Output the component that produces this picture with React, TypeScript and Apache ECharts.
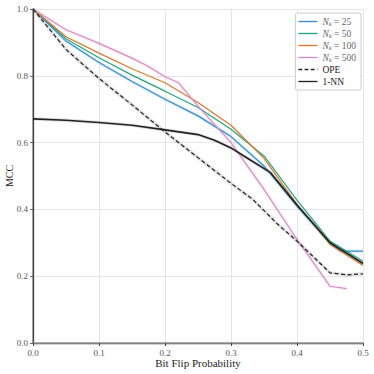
import React, { useEffect, useRef } from "react";
import * as echarts from "echarts";

const xStd = [0, 0.05, 0.1, 0.15, 0.2, 0.25, 0.3, 0.35, 0.4, 0.45, 0.5];
const xN25 = [0, 0.05, 0.1, 0.15, 0.2, 0.25, 0.3, 0.35, 0.4, 0.45, 0.465, 0.5];
const yN25 = [1.0, 0.904, 0.84, 0.783, 0.73, 0.68, 0.618, 0.53, 0.41, 0.3, 0.275, 0.275];
const yN50 = [1.0, 0.911, 0.854, 0.802, 0.754, 0.705, 0.64, 0.56, 0.428, 0.305, 0.245];
const yN100 = [1.0, 0.917, 0.868, 0.821, 0.779, 0.72, 0.652, 0.553, 0.415, 0.295, 0.232];
const xN500 = [0, 0.05, 0.1, 0.15, 0.175, 0.2, 0.22, 0.25, 0.3, 0.35, 0.4, 0.45, 0.475];
const yN500 = [1.0, 0.938, 0.897, 0.853, 0.828, 0.797, 0.78, 0.709, 0.6, 0.46, 0.31, 0.17, 0.163];
const xOPE = [0, 0.05, 0.1, 0.15, 0.2, 0.25, 0.3, 0.333, 0.37, 0.4, 0.45, 0.475, 0.5];
const yOPE = [1.0, 0.879, 0.792, 0.713, 0.632, 0.555, 0.478, 0.43, 0.357, 0.305, 0.21, 0.204, 0.207];
const xNN = [0, 0.05, 0.1, 0.15, 0.2, 0.25, 0.275, 0.3, 0.325, 0.36, 0.4, 0.45, 0.5];
const yNN = [0.671, 0.667, 0.66, 0.652, 0.638, 0.624, 0.607, 0.584, 0.553, 0.51, 0.413, 0.3, 0.238];

const seriesNames = ["N_k = 25", "N_k = 50", "N_k = 100", "N_k = 500", "OPE", "1-NN"];
const colors = ["#338dd0", "#1fa67a", "#e0762a", "#d98cc6", "#222222", "#222222"];

const zip = (xs: number[], ys: number[]) => xs.map((x, i) => [x, ys[i]]);

const FONT = "Liberation Serif";
const SOLID_ICON = "path://M0,0h20v1.4h-20z";
const DASH_ICON = "path://M0,0h4v1.4h-4zM6.5,0h4v1.4h-4zM13,0h4v1.4h-4zM19.5,0h0.5v1.4h-0.5z";

export default function App() {
  const ref = useRef<HTMLDivElement>(null);
  useEffect(() => {
    if (!ref.current) return;
    const chart = echarts.init(ref.current, null, { renderer: "svg" });
    const datasets = [
      zip(xN25, yN25),
      zip(xStd, yN50),
      zip(xStd, yN100),
      zip(xN500, yN500),
      zip(xOPE, yOPE),
      zip(xNN, yNN),
    ];
    const main: any[] = datasets.map((d, i) => ({
      name: seriesNames[i],
      type: "line",
      data: d,
      symbol: "none",
      z: 3,
      lineStyle: {
        color: colors[i],
        width: i === 5 ? 1.6 : 1.2,
        type: i === 4 ? [4, 2.5] : "solid",
      },
      itemStyle: { color: colors[i] },
    }));
    const bands: any[] = [0, 3, 4, 5].map((i) => ({
      name: seriesNames[i] + "_band",
      type: "line",
      data: datasets[i],
      symbol: "none",
      silent: true,
      z: 2,
      lineStyle: { color: colors[i], width: 3.5, opacity: i >= 4 ? 0.12 : 0.15 },
    }));
    chart.setOption({
      animation: false,
      backgroundColor: "#ffffff",
      grid: {
        left: 33,
        right: 11,
        top: 9,
        bottom: 31,
        containLabel: false,
        outerBoundsMode: "none",
      },
      legend: {
        data: seriesNames.map((n, i) => ({ name: n, icon: i === 4 ? DASH_ICON : SOLID_ICON })),
        orient: "vertical",
        right: 13,
        top: 13,
        itemWidth: 19,
        itemHeight: 8,
        itemGap: 1,
        symbolKeepAspect: true,
        padding: [3, 5, 3, 3],
        borderColor: "#cccccc",
        borderWidth: 1,
        borderRadius: 2,
        backgroundColor: "#ffffff",
        formatter: (name: string) => {
          if (name.startsWith("N_k")) {
            return "{i|N}{s|k}{t| = " + name.slice(6) + "}";
          }
          return "{b|" + name + "}";
        },
        textStyle: {
          fontFamily: FONT,
          fontSize: 9.5,
          color: "#444",
          lineHeight: 11,
          rich: {
            i: { fontFamily: FONT, fontStyle: "italic", fontSize: 9.5, color: "#666", lineHeight: 11 },
            s: { fontFamily: FONT, fontStyle: "italic", fontSize: 6.5, color: "#666", lineHeight: 11, verticalAlign: "bottom" },
            t: { fontFamily: FONT, fontSize: 9.5, color: "#666", lineHeight: 11 },
            b: { fontFamily: FONT, fontSize: 9.5, color: "#222", lineHeight: 11 },
          },
        },
      },
      xAxis: [
        {
          type: "value",
          min: 0,
          max: 0.5,
          interval: 0.1,
          name: "Bit Flip Probability",
          nameLocation: "middle",
          nameGap: 14,
          nameMoveOverlap: false,
          nameTextStyle: { fontFamily: FONT, fontSize: 11, color: "#222" },
          axisLine: { show: true, lineStyle: { color: "#444", width: 1.3 } },
          axisTick: { show: true, length: 3, lineStyle: { color: "#444" } },
          axisLabel: {
            fontFamily: FONT,
            fontSize: 9,
            color: "#555",
            margin: 5,
            formatter: (v: number) => v.toFixed(1),
          },
          splitLine: { show: true, lineStyle: { color: "#e6e6e6", width: 1 } },
        },
        {
          type: "value",
          position: "top",
          min: 0,
          max: 0.5,
          interval: 0.1,
          axisLine: { show: true, lineStyle: { color: "#999", width: 1.5 } },
          axisTick: { show: false },
          axisLabel: { show: false },
          splitLine: { show: false },
        },
      ],
      yAxis: [
        {
          type: "value",
          min: 0,
          max: 1,
          interval: 0.2,
          name: "MCC",
          nameLocation: "middle",
          nameGap: 19,
          nameMoveOverlap: false,
          nameTextStyle: { fontFamily: FONT, fontSize: 10, color: "#222" },
          axisLine: { show: true, lineStyle: { color: "#999", width: 1.5 } },
          axisTick: { show: true, length: 3, lineStyle: { color: "#666" } },
          axisLabel: {
            fontFamily: FONT,
            fontSize: 9,
            color: "#555",
            margin: 5,
            formatter: (v: number) => v.toFixed(1),
          },
          splitLine: { show: true, lineStyle: { color: "#e6e6e6", width: 1 } },
        },
        {
          type: "value",
          position: "right",
          min: 0,
          max: 1,
          interval: 0.2,
          axisLine: { show: true, lineStyle: { color: "#444", width: 1.3 } },
          axisTick: { show: false },
          axisLabel: { show: false },
          splitLine: { show: false },
        },
      ],
      series: [...bands, ...main],
    });
    return () => chart.dispose();
  }, []);
  return <div ref={ref} style={{ width: 374, height: 374, position: "absolute", left: 0, top: 0 }} />;
}
